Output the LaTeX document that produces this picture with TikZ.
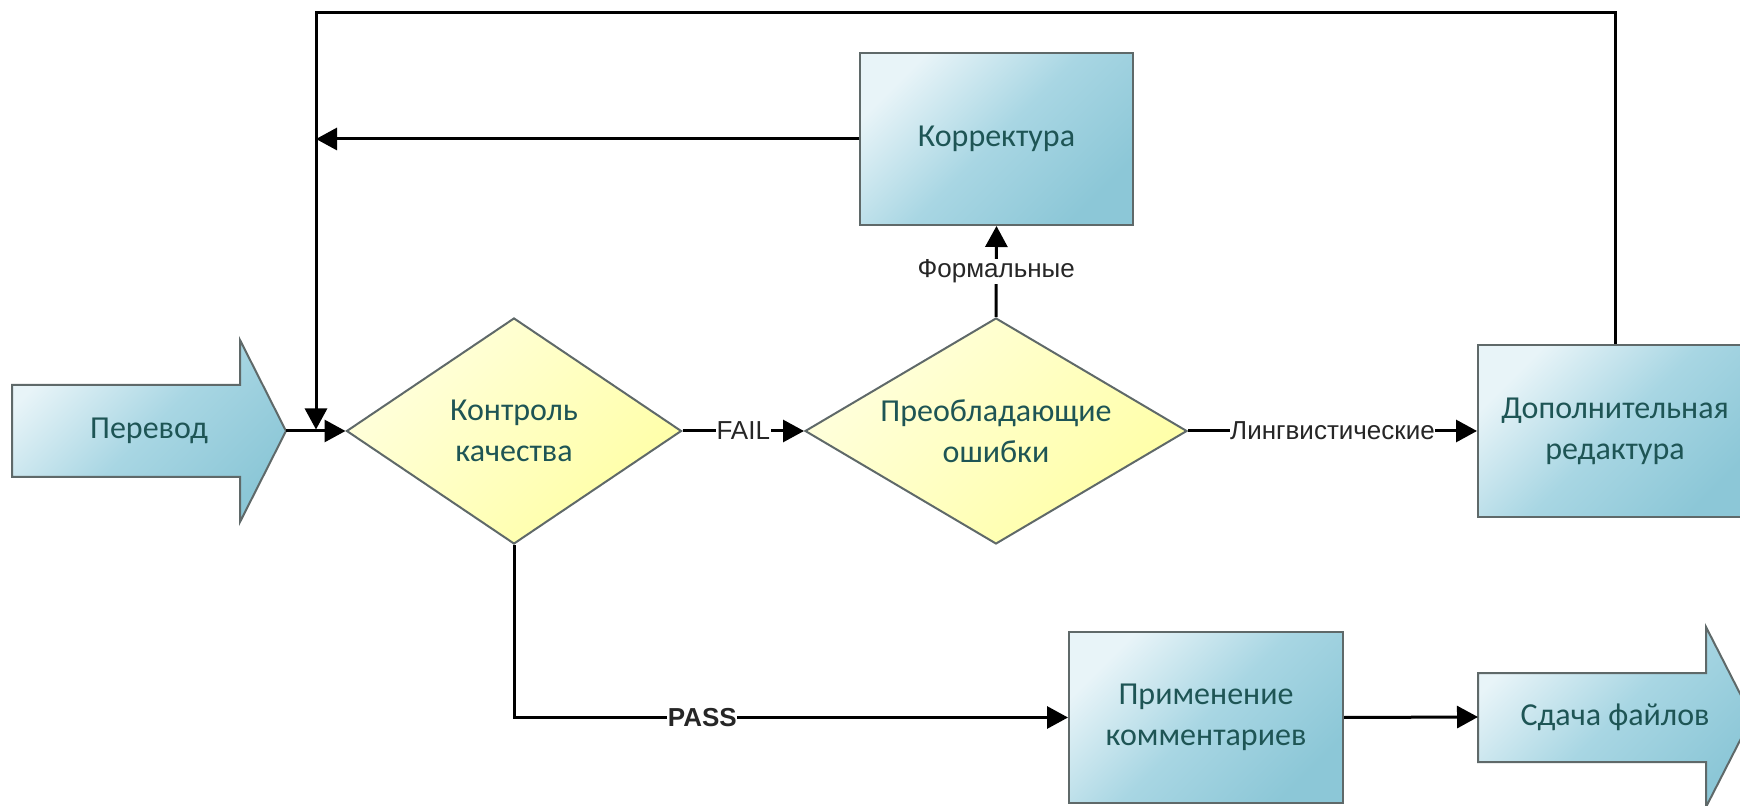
\documentclass[tikz,border=0pt]{standalone}
\usepackage{fontspec}
\setmainfont{Carlito}
\newfontfamily\arialf{Liberation Sans}
\usetikzlibrary{arrows.meta,shapes.geometric}
\definecolor{txt}{RGB}{30,85,85}
\definecolor{edge}{RGB}{95,105,105}
\definecolor{bluelight}{RGB}{232,244,248}
\definecolor{bluemid}{RGB}{168,214,227}
\definecolor{bluedark}{RGB}{140,199,215}
\definecolor{yellight}{RGB}{255,255,222}
\definecolor{yeldark}{RGB}{255,255,165}
\tikzset{
  bluefill/.style={draw=edge, line width=1pt, top color=bluelight, bottom color=bluedark, middle color=bluemid, shading angle=45},
  procbox/.style={rectangle, bluefill, inner sep=0pt, minimum width=137pt, minimum height=86pt, text=txt, font=\fontsize{16}{20.5}\selectfont, align=center},
  decision/.style={diamond, draw=edge, line width=1pt, top color=yellight, bottom color=yeldark, shading angle=45, inner sep=0pt, minimum height=113pt, text=txt, font=\fontsize{16}{20.5}\selectfont, align=center},
  arrowtext/.style={text=txt, font=\fontsize{16}{20.5}\selectfont, align=center},
  conn/.style={line width=1.5pt, black},
  arr/.style={conn, -{Triangle[length=10.5pt,width=11pt]}},
  lbl/.style={fill=white, inner sep=0.3pt, font=\arialf\fontsize{13}{15}\selectfont, text=black!85}
}
\begin{document}
\begin{tikzpicture}[x=0.5pt,y=-0.5pt]
\useasboundingbox (0,0) rectangle (1740,806);
\begin{scope}
\clip (0,0) rectangle (1740,806);
% Perevod arrow shape
\shade[bluefill] (12,385) -- (240,385) -- (240,340) -- (286,431) -- (240,522) -- (240,477) -- (12,477) -- cycle;
\node[arrowtext] (perevod) at (149,431) {Перевод};
\coordinate (perevodTip) at (286,431);
% Sdacha arrow shape
\shade[bluefill] (1478,673) -- (1706,673) -- (1706,627) -- (1752,717) -- (1706,807) -- (1706,762) -- (1478,762) -- cycle;
\node[arrowtext] (sdacha) at (1615,717) {Сдача файлов};
\coordinate (sdachaTail) at (1478,717);
% decisions
\node[decision, shape aspect=1.48, minimum width=167.5pt] (kk) at (514,431) {Контроль\\качества};
\node[decision, shape aspect=1.69, minimum width=191pt] (po) at (996,431) {Преобладающие\\ошибки};
% boxes
\node[procbox, minimum width=136.5pt] (korr) at (996.5,139) {Корректура};
\node[procbox] (dop) at (1615,431) {Дополнительная\\редактура};
\node[procbox, minimum height=85.5pt] (prim) at (1206,717.5) {Применение\\комментариев};
% coordinates for loop
\coordinate (tl) at (316,13);
\coordinate (join) at (316,431);
\end{scope}
% connectors
\draw[arr] (perevodTip) -- (kk.west);
\draw[arr, shorten >=0.75pt] (dop.north) |- (tl) -- (join);
\draw[arr] (korr.west) -- (korr.west -| tl);
\draw[arr] (kk.east) -- node[lbl] {FAIL} (po.west);
\draw[arr] (po.north) -- node[lbl] {Формальные} (korr.south);
\draw[arr] (po.east) -- node[lbl] {Лингвистические} (dop.west);
\draw[arr] (kk.south) |- node[lbl, pos=0.67, font=\arialf\bfseries\fontsize{13}{15}\selectfont] {PASS} (prim.west);
\draw[arr] (prim.east) -- (sdachaTail);
\end{tikzpicture}
\end{document}
